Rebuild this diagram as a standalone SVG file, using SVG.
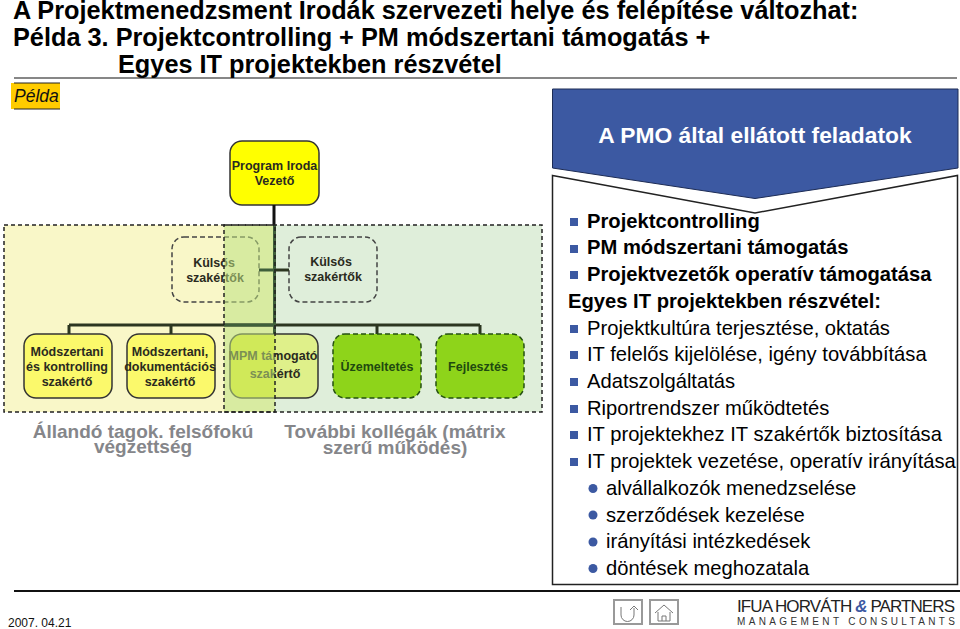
<svg xmlns="http://www.w3.org/2000/svg" width="960" height="629" viewBox="0 0 960 629">
<defs>
<linearGradient id="mpmFill" gradientUnits="userSpaceOnUse" x1="230" y1="0" x2="318" y2="0">
<stop offset="0.511" stop-color="#e6f129"/><stop offset="0.511" stop-color="#dff08a"/>
</linearGradient>
</defs>
<style>
text{font-family:"Liberation Sans",Arial,sans-serif}
.t{font-size:25.300px;font-weight:bold;fill:#000}
.n{font-size:12.500px;font-weight:bold;fill:#2a2a20;text-anchor:middle}
.box{stroke:#333;stroke-width:1.5}
.dash{fill:none;stroke:#444;stroke-width:1.5;stroke-dasharray:5 3}
.gn{fill:#8ed41a;stroke:#245010;stroke-width:1.5;stroke-dasharray:5 3}
.gt{fill:#1f4a10}
.zd{fill:none;stroke:#222;stroke-width:1.5;stroke-dasharray:4 3}
.c{stroke:#2c3620;stroke-width:3;fill:none}
.g{font-size:19px;font-weight:bold;fill:#85868a;text-anchor:middle}
.l{font-size:20.200px;fill:#000}
.b{font-weight:bold}
.sq{fill:#3c59a2}
.ic{fill:#fff;stroke:#999;stroke-width:2}
.ig{fill:none;stroke:#777;stroke-width:1}
</style>
<rect width="960" height="629" fill="#fff"/>
<g id="title">
<text class="t" x="13" y="19">A Projektmenedzsment Irodák szervezeti helye és felépítése változhat:</text>
<text class="t" x="13" y="46">Példa 3. Projektcontrolling + PM módszertani támogatás +</text>
<text class="t" x="118" y="73">Egyes IT projektekben részvétel</text>
<line x1="14" y1="78" x2="957" y2="78" stroke="#111" stroke-width="1.200"/>
</g>
<g id="pelda">
<rect x="11" y="83" width="49" height="26" fill="#ffcc00"/>
<line x1="14" y1="83" x2="60" y2="83" stroke="#222"/><line x1="14" y1="109" x2="60" y2="109" stroke="#222"/>
<text x="14" y="102" font-size="17.500" font-style="italic" fill="#111">Példa</text>
</g>
<g id="zones">
<rect x="4" y="225" width="271" height="187" fill="#f9f7c8"/>
<rect x="275" y="225" width="267" height="187" fill="#dfeeda"/>
</g>
<g id="node-program"><rect class="box" x="230" y="141" width="89" height="64" rx="12" fill="#ff0"/>
<text class="n" x="274.500" y="170">Program Iroda</text><text class="n" x="274.500" y="185">Vezető</text></g>
<g id="node-kulsos-1"><rect class="dash" x="172" y="237" width="87" height="65" rx="12"/>
<text class="n" x="214" y="267">Külsős</text><text class="n" x="215" y="282">szakértők</text></g>
<g id="node-kulsos-2"><rect class="dash" x="289" y="237" width="88" height="65" rx="12"/>
<text class="n" x="331" y="266">Külsős</text><text class="n" x="333" y="281">szakértők</text></g>
<g id="node-modszertani"><rect class="box" x="24" y="334" width="88" height="64" rx="12" fill="#fbf96b"/>
<text class="n" x="67" y="356">Módszertani</text><text class="n" x="67" y="371">és kontrolling</text><text class="n" x="67" y="386">szakértő</text></g>
<g id="node-dokumentacios"><rect class="box" x="127" y="334" width="88" height="64" rx="12" fill="#fbf96b"/>
<text class="n" x="170" y="356">Módszertani,</text><text class="n" x="170" y="371">dokumentációs</text><text class="n" x="170" y="386">szakértő</text></g>
<g id="node-mpm"><rect class="box" x="230" y="334" width="88" height="64" rx="12" fill="url(#mpmFill)"/>
<text class="n" x="273" y="360">MPM támogató</text><text class="n" x="275" y="378">szakértő</text></g>
<g id="overlap">
<rect x="224" y="225" width="51" height="187" fill="rgb(190,225,130)" fill-opacity=".55"/>
</g>
<g id="connectors">
<path class="c" d="M69 325H480M69 325V334M171 325V334M377 325V334M480 325V334M275 270H289"/>
<path class="c" stroke-width="3.500" style="stroke:#111" d="M274 205V225"/>
<path class="c" style="stroke:#3f5f3a" d="M274.500 225V334M224 325H275M259 270H275"/>
</g>
<g id="zone-borders">
<rect class="zd" x="4" y="225" width="271" height="187"/>
<rect class="zd" x="224" y="225" width="318" height="187"/>
</g>
<g id="node-uzemeltetes"><rect class="gn" x="333" y="334" width="88" height="64" rx="12"/>
<text class="n gt" x="377" y="371">Üzemeltetés</text></g>
<g id="node-fejlesztes"><rect class="gn" x="436" y="334" width="88" height="64" rx="12"/>
<text class="n gt" x="478" y="371">Fejlesztés</text></g>
<g id="captions">
<text class="g" x="143" y="438">Állandó tagok. felsőfokú</text><text class="g" x="143" y="453">végzettség</text>
<text class="g" x="395" y="438">További kollégák (mátrix</text><text class="g" x="395" y="454">szerű működés)</text>
</g>
<g id="panel">
<path d="M552.500 175.500 L755 213 L957.500 175.500 V584.500 H552.500Z" fill="#fff" stroke="#222" stroke-width="1.500"/>
<path d="M552.500 89 H958 V168 L755 198.500 L552.500 168Z" fill="#3c59a2" stroke="#1d2c55" stroke-width="1"/>
<text x="755" y="143" font-size="22.800" font-weight="bold" fill="#fff" text-anchor="middle">A PMO által ellátott feladatok</text>
</g>
<g id="items">
<rect class="sq" x="570" y="218" width="8" height="8"/><text class="l b" x="587" y="228">Projektcontrolling</text>
<rect class="sq" x="570" y="245" width="8" height="8"/><text class="l b" x="587" y="254">PM módszertani támogatás</text>
<rect class="sq" x="570" y="271" width="8" height="8"/><text class="l b" x="587" y="281">Projektvezetők operatív támogatása</text>
<text class="l b" x="568" y="308">Egyes IT projektekben részvétel:</text>
<rect class="sq" x="570" y="325" width="8" height="8"/><text class="l" x="587" y="335">Projektkultúra terjesztése, oktatás</text>
<rect class="sq" x="570" y="351" width="8" height="8"/><text class="l" x="587" y="361">IT felelős kijelölése, igény továbbítása</text>
<rect class="sq" x="570" y="378" width="8" height="8"/><text class="l" x="587" y="388">Adatszolgáltatás</text>
<rect class="sq" x="570" y="405" width="8" height="8"/><text class="l" x="587" y="415">Riportrendszer működtetés</text>
<rect class="sq" x="570" y="431" width="8" height="8"/><text class="l" x="587" y="441">IT projektekhez IT szakértők biztosítása</text>
<rect class="sq" x="570" y="458" width="8" height="8"/><text class="l" x="587" y="468">IT projektek vezetése, operatív irányítása</text>
<circle class="sq" cx="593" cy="488.500" r="4.500"/><text class="l" x="606" y="495">alvállalkozók menedzselése</text>
<circle class="sq" cx="593" cy="515" r="4.500"/><text class="l" x="606" y="522">szerződések kezelése</text>
<circle class="sq" cx="593" cy="542" r="4.500"/><text class="l" x="606" y="548">irányítási intézkedések</text>
<circle class="sq" cx="593" cy="568.500" r="4.500"/><text class="l" x="606" y="575">döntések meghozatala</text>
</g>
<g id="footer">
<line x1="14" y1="591" x2="960" y2="591" stroke="#111" stroke-width="2"/>
<text x="8" y="627" font-size="12" fill="#111">2007. 04.21</text>
<rect class="ic" x="614" y="600" width="28" height="24"/>
<rect class="ic" x="650" y="600" width="28" height="24"/>
<path class="ig" d="M621 607V615a6.500 6.500 0 0 0 13 0V608M630 610l4-4 4 4"/>
<path class="ig" d="M655 613l9-8 9 8M658 612V621H670V612M662 621V616H666V621"/>
<text x="737" y="612" font-size="17" fill="#222" textLength="218">IFUA HORVÁTH <tspan fill="#3c59a2" font-weight="bold" font-style="italic">&amp;</tspan> PARTNERS</text>
<text x="737" y="625" font-size="10" fill="#333" textLength="218" lengthAdjust="spacing">MANAGEMENT CONSULTANTS</text>
</g>
</svg>
